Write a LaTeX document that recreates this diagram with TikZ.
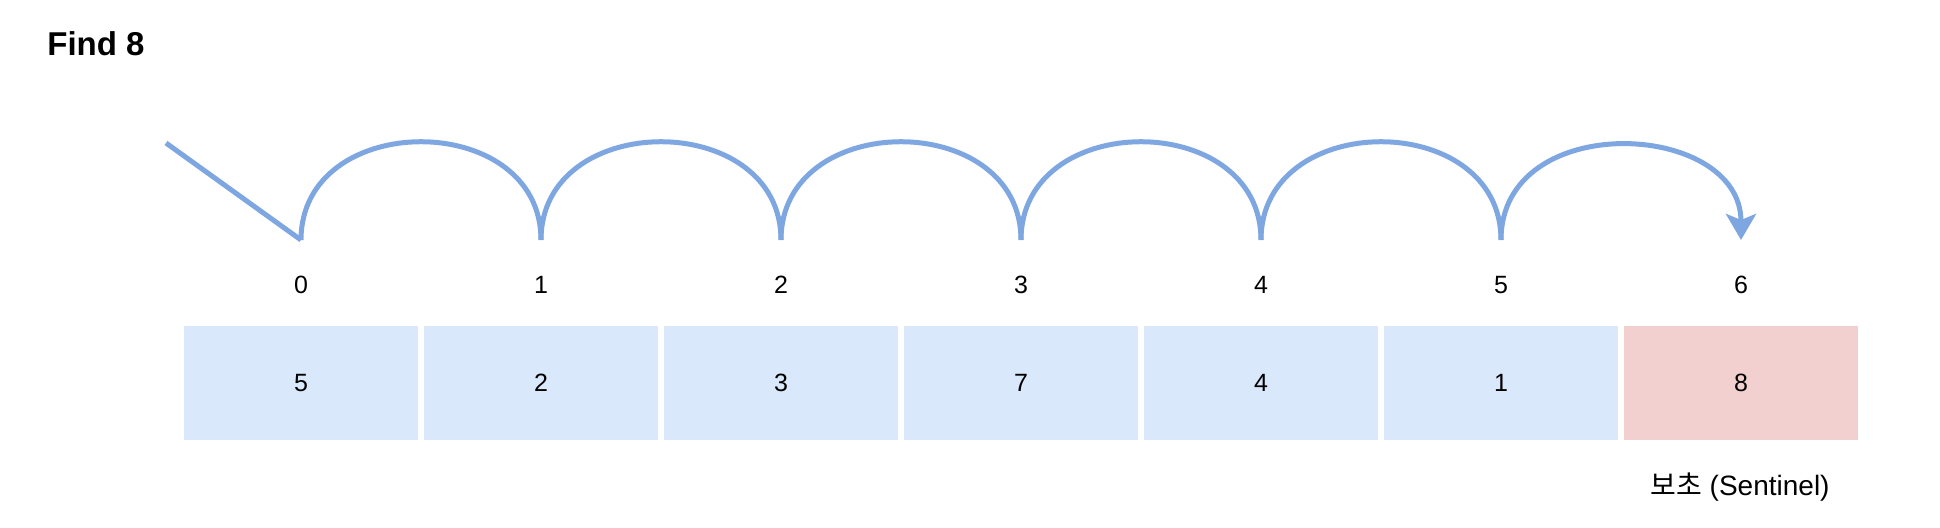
\documentclass[tikz,border=0pt]{standalone}
\usepackage{fontspec}
\setmainfont{Liberation Sans}
\newfontfamily\krfont{Noto Sans CJK KR}
\usetikzlibrary{arrows.meta}

\definecolor{hopBlue}{RGB}{126,166,224}
\definecolor{cellBlue}{RGB}{218,232,252}
\definecolor{cellRed}{RGB}{242,208,207}

\tikzset{
  cell/.style={rectangle,fill=cellBlue,minimum width=117pt,minimum height=57pt,inner sep=0pt,font=\fontsize{12.5}{15}\selectfont},
  sentinelcell/.style={cell,fill=cellRed},
  idx/.style={inner sep=0.75pt,font=\fontsize{12.5}{15}\selectfont},
  hop/.style={draw=hopBlue,line width=2.5pt,line cap=butt},
}

\begin{document}
\begin{tikzpicture}[x=0.5pt,y=0.5pt,yscale=-1,xscale=1]
  \useasboundingbox (0,0) rectangle (1940,528);

  % Title
  \node (title) [anchor=west,inner sep=0pt,font=\fontsize{16.5}{20}\bfseries] at (47,44) {Find 8};

  % Array cells
  \node (c0) [cell] at (301,383) {5};
  \node (c1) [cell] at (541,383) {2};
  \node (c2) [cell] at (781,383) {3};
  \node (c3) [cell] at (1021,383) {7};
  \node (c4) [cell] at (1261,383) {4};
  \node (c5) [cell] at (1501,383) {1};
  \node (c6) [sentinelcell] at (1741,383) {8};

  % Text Node
  \node (i0) [idx] at (301,285) {0};
  \node (i1) [idx] at (541,285) {1};
  \node (i2) [idx] at (781,285) {2};
  \node (i3) [idx] at (1021,285) {3};
  \node (i4) [idx] at (1261,285) {4};
  \node (i5) [idx] at (1501,285) {5};
  \node (i6) [idx] at (1741,285) {6};
  % Text Node
  \node (sentinel) [idx,font=\fontsize{14}{17}\selectfont] at (1740,487) {{\krfont 보초} (Sentinel)};

  % hop points
  \coordinate (start) at (166,143);
  \coordinate (j0) at (301,240);
  \coordinate (j1) at (541,240);
  \coordinate (j2) at (781,240);
  \coordinate (j3) at (1021,240);
  \coordinate (j4) at (1261,240);
  \coordinate (j5) at (1501,240);
  \coordinate (j6) at (1741,240);

  %Straight Lines
  \draw [hop] (start) -- (j0);
  %Curves
  \draw [hop] (j0) to[out=-90,in=-90,looseness=1.4] (j1);
  \draw [hop] (j1) to[out=-90,in=-90,looseness=1.4] (j2);
  \draw [hop] (j2) to[out=-90,in=-90,looseness=1.4] (j3);
  \draw [hop] (j3) to[out=-90,in=-90,looseness=1.4] (j4);
  \draw [hop] (j4) to[out=-90,in=-90,looseness=1.4] (j5);
  \draw [hop,-{Stealth[length=13pt,width=15pt,inset=3pt]}] (j5) to[out=-90,in=-90,out looseness=1.4,in looseness=1.28] (j6);
\end{tikzpicture}
\end{document}
